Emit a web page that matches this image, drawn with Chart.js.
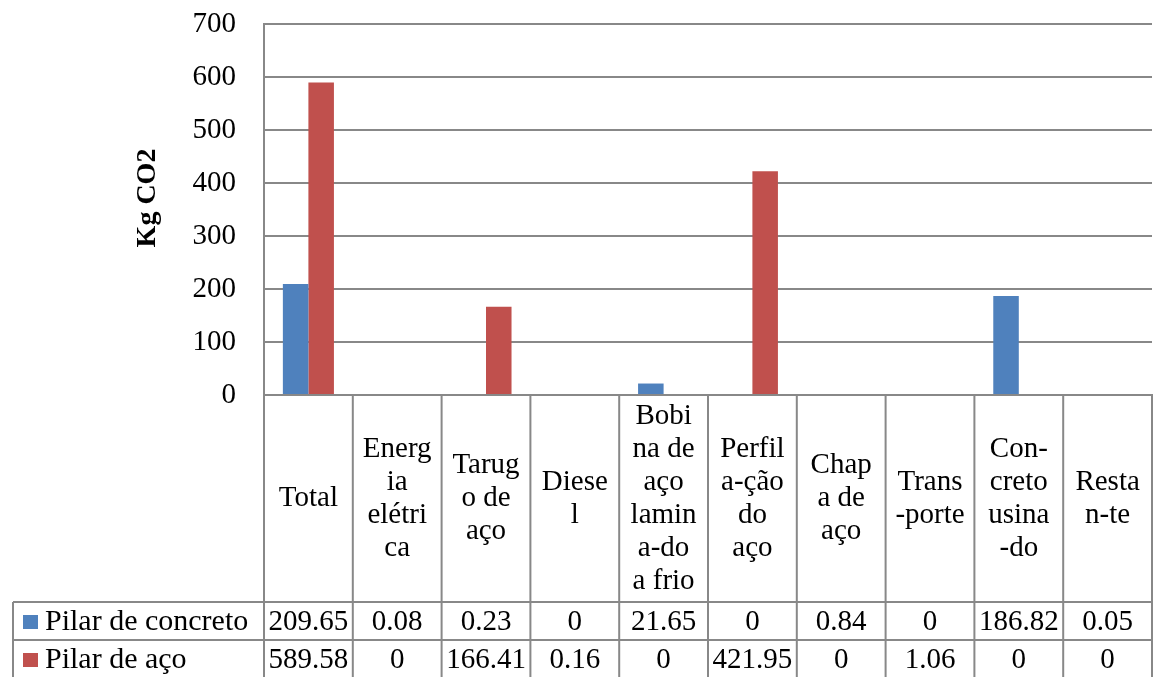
<!DOCTYPE html>
<html>
<head>
<meta charset="utf-8">
<script src="https://cdn.jsdelivr.net/npm/chart.js@4"></script>
<style>
  body { margin: 0; background: #fff; }
  #wrap { width: 1157px; height: 677px; position: relative; }
</style>
</head>
<body>
<div id="wrap"><canvas id="barCanvas"></canvas></div>
<script>
const categories = [
  ["Total"],
  ["Energ", "ia", "elétri", "ca"],
  ["Tarug", "o de", "aço"],
  ["Diese", "l"],
  ["Bobi", "na de", "aço", "lamin", "a-do", "a frio"],
  ["Perfil", "a-ção", "do", "aço"],
  ["Chap", "a de", "aço"],
  ["Trans", "-porte"],
  ["Con-", "creto", "usina", "-do"],
  ["Resta", "n-te"]
];
const seriesNames = ["Pilar de concreto", "Pilar de aço"];
const pilarConcreto = [209.65, 0.08, 0.23, 0, 21.65, 0, 0.84, 0, 186.82, 0.05];
const pilarAco = [589.58, 0, 166.41, 0.16, 0, 421.95, 0, 1.06, 0, 0];
const seriesColors = ["#4f81bd", "#c0504d"];
const axisTitle = "Kg CO2";

const FONT = "'Liberation Serif', 'Times New Roman', serif";
const LINE = "#888888";

// data table under the plot, drawn by hand like Excel's
const tablePlugin = {
  id: "dataTable",
  afterDraw(chart) {
    const ctx = chart.ctx;
    const area = chart.chartArea;
    const x = chart.scales.x;
    const n = categories.length;
    const colW = (area.right - area.left) / n;
    const top = area.bottom;
    const headBottom = top + 207;
    const rowH = 38;
    const legendLeft = 13;

    ctx.save();
    ctx.strokeStyle = LINE;
    ctx.lineWidth = 2;
    ctx.beginPath();
    // vertical lines
    for (let i = 0; i <= n; i++) {
      const px = area.left + i * colW;
      ctx.moveTo(px, i === 0 ? area.top : top);
      ctx.lineTo(px, headBottom + rowH * 2 + 2);
    }
    ctx.moveTo(legendLeft, headBottom);
    ctx.lineTo(legendLeft, headBottom + rowH * 2 + 2);
    // horizontal lines
    ctx.moveTo(area.left, top);
    ctx.lineTo(area.right, top);
    ctx.moveTo(legendLeft, headBottom);
    ctx.lineTo(area.right, headBottom);
    ctx.moveTo(legendLeft, headBottom + rowH);
    ctx.lineTo(area.right, headBottom + rowH);
    ctx.stroke();

    ctx.fillStyle = "#000";
    ctx.font = "29px " + FONT;
    ctx.textAlign = "center";
    ctx.textBaseline = "middle";
    const lh = 33;
    const midHead = (top + headBottom) / 2;
    categories.forEach((lines, i) => {
      const cx = x.getPixelForValue(i);
      const y0 = midHead - (lines.length - 1) * lh / 2;
      lines.forEach((t, j) => ctx.fillText(t, cx, y0 + j * lh));
    });

    const rows = [pilarConcreto, pilarAco];
    rows.forEach((vals, r) => {
      const cy = headBottom + rowH * r + rowH / 2 + 1;
      ctx.textAlign = "center";
      vals.forEach((v, i) => ctx.fillText(String(v), x.getPixelForValue(i), cy));
      ctx.fillStyle = seriesColors[r];
      ctx.fillRect(23, cy - 7, 15, 14);
      ctx.fillStyle = "#000";
      ctx.textAlign = "left";
      ctx.font = "30px " + FONT;
      ctx.fillText(seriesNames[r], 45, cy);
      ctx.font = "29px " + FONT;
    });

    // y axis title
    ctx.translate(148, 198);
    ctx.rotate(-Math.PI / 2);
    ctx.font = "bold 28px " + FONT;
    ctx.textAlign = "center";
    ctx.fillText(axisTitle, 0, 0);
    ctx.restore();
  }
};

const barChart = new Chart(document.getElementById("barCanvas"), {
  type: "bar",
  data: {
    labels: categories.map(c => c.join(" ")),
    datasets: [
      { label: seriesNames[0], data: pilarConcreto, backgroundColor: seriesColors[0] },
      { label: seriesNames[1], data: pilarAco, backgroundColor: seriesColors[1] }
    ]
  },
  options: {
    responsive: true,
    maintainAspectRatio: false,
    devicePixelRatio: 1,
    animation: false,
    layout: { padding: { left: 0, right: 5, top: 24, bottom: 0 } },
    datasets: { bar: { categoryPercentage: 0.575, barPercentage: 1 } },
    plugins: { legend: { display: false }, tooltip: { enabled: true } },
    scales: {
      x: {
        ticks: { display: false },
        grid: { display: false },
        border: { color: LINE, width: 2 },
        afterFit(scale) { scale.height = 282; }
      },
      y: {
        min: 0,
        max: 700,
        ticks: { stepSize: 100, padding: 0, color: "#000", font: { family: FONT, size: 29 } },
        grid: { color: LINE, lineWidth: 2, drawTicks: true, tickLength: 28, tickColor: "rgba(0,0,0,0)" },
        border: { color: LINE, width: 2 },
        afterFit(scale) { scale.width = 264; }
      }
    }
  },
  plugins: [tablePlugin]
});
</script>
</body>
</html>
